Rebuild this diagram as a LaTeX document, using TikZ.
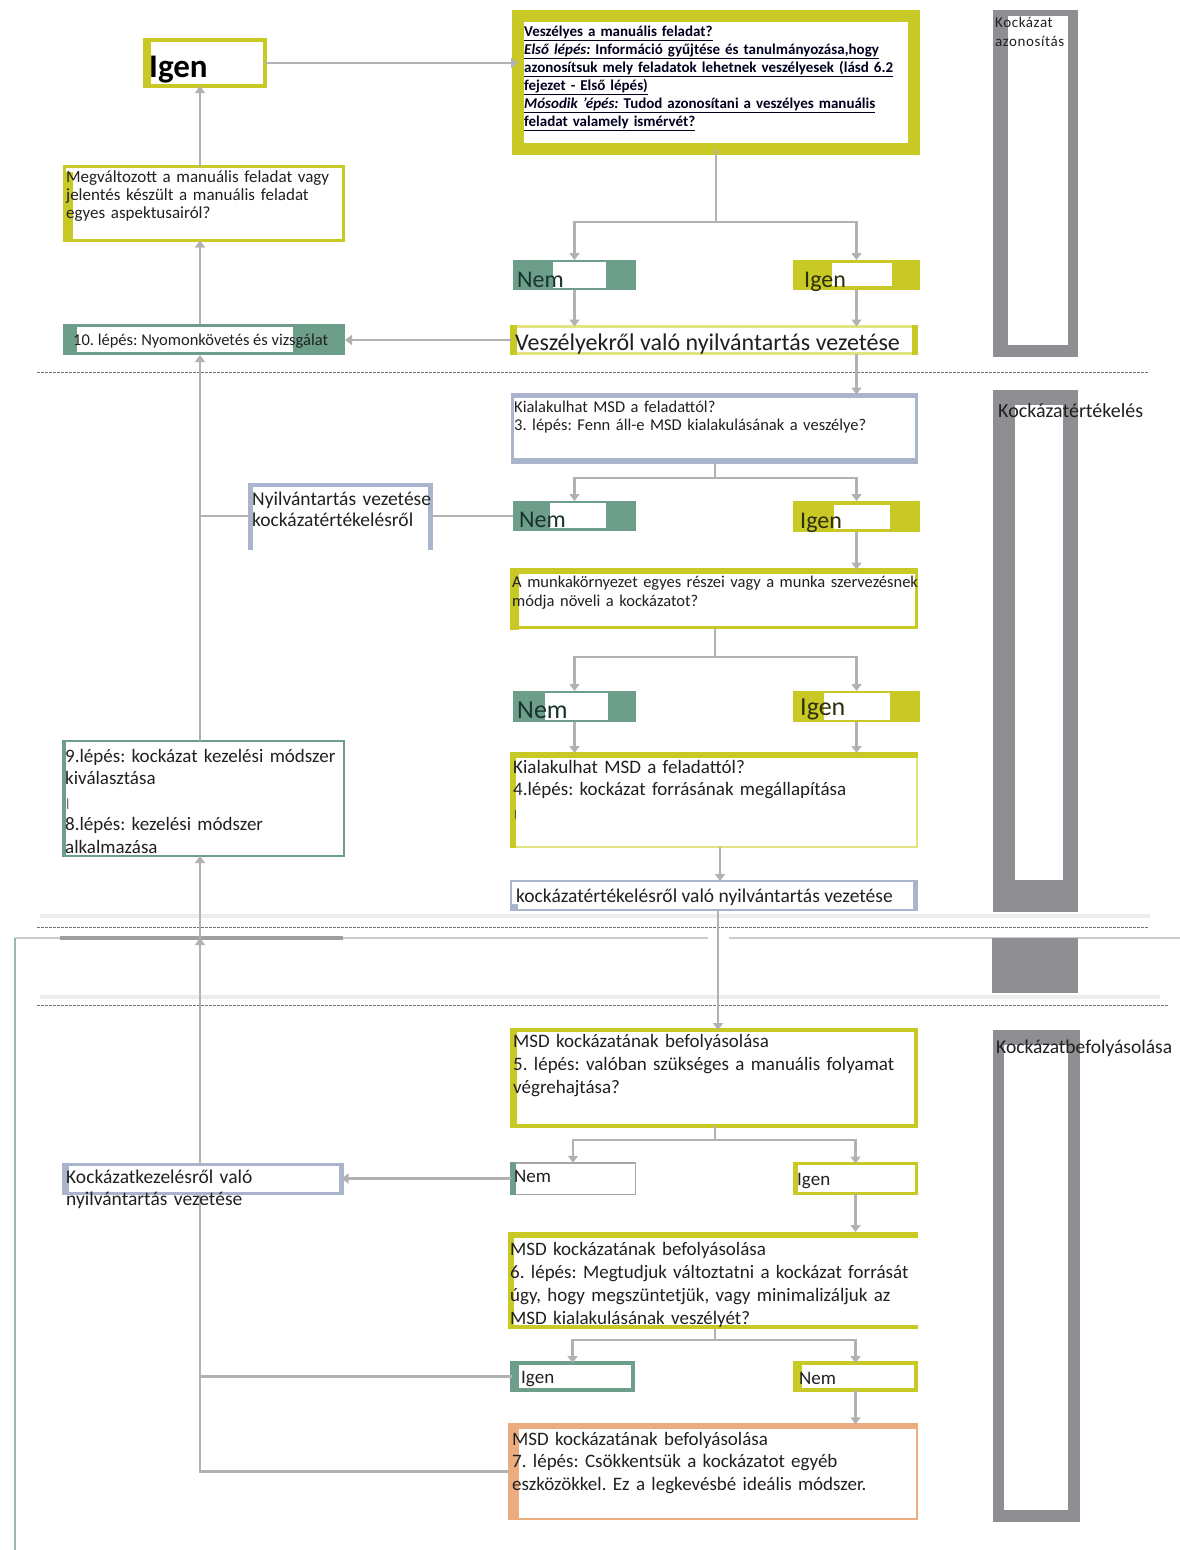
\documentclass[tikz,border=0pt]{standalone}
\usepackage{fontspec}
\setmainfont{Carlito}
\newfontfamily\widefont[LetterSpace=4]{Carlito}
\usetikzlibrary{arrows.meta}
\frenchspacing

\definecolor{ylw}{RGB}{200,201,36}
\definecolor{ylwlt}{RGB}{226,228,130}
\definecolor{teal}{RGB}{108,158,138}
\definecolor{bluegray}{RGB}{170,180,205}
\definecolor{frgray}{RGB}{142,142,147}
\definecolor{orng}{RGB}{236,172,128}
\definecolor{conngray}{RGB}{178,178,178}
\definecolor{txtc}{RGB}{32,32,32}
\definecolor{nemc}{RGB}{25,50,45}
\definecolor{igenc}{RGB}{45,45,15}

\tikzset{
  bx/.style={rectangle, inner sep=0pt, outer sep=0pt, anchor=north west, fill=white},
  tx/.style={anchor=base west, inner sep=0pt, text=txtc},
  mtx/.style={anchor=base west, inner sep=0pt, text=txtc, align=left, text width=#1},
  conn/.style={draw=conngray, line width=2.5pt},
  arr/.style={conn, -{Triangle[width=10pt,length=7pt]}},
  sep/.style={draw=black!55, line width=0.9pt, dash pattern=on 2.5pt off 1.5pt},
}

\begin{document}
\begin{tikzpicture}[x=1pt,y=-1pt]
\useasboundingbox (0,0) rectangle (1180,1550);
\fill[white] (0,0) rectangle (1180,1550);

% ---------- section separators ----------
\draw[black!7, line width=4pt] (40,916) -- (1150,916);
\draw[black!7, line width=4pt] (40,997) -- (1160,997);
\draw[sep] (37,372) -- (1148,372);
\draw[sep] (37,927) -- (1148,927);
\draw[sep] (37,1005) -- (1168,1005);
\draw[black!20, line width=2.5pt] (15,938) -- (708,938);
\draw[black!20, line width=2.5pt] (729,938) -- (1180,938);
\draw[black!38, line width=3.5pt] (60,938) -- (343,938);
\draw[teal!70, line width=1.5pt] (15,938) -- (15,1550);

% ---------- phase frames on the right ----------
\fill[frgray] (993,10) rectangle (1078,357);
\fill[white] (1008,16) rectangle (1068,345);
\node[tx, font=\widefont\fontsize{15}{20}\selectfont] (ph1a) at (995,27) {Kockázat};
\node[tx, font=\widefont\fontsize{15}{20}\selectfont] (ph1b) at (995,46) {azonosítás};

\fill[frgray] (993,390) rectangle (1078,912);
\fill[white] (1015,405) rectangle (1063,880);
\node[tx, font=\fontsize{20}{22}\selectfont] (ph2) at (998,417) {Kockázatértékelés};

\fill[frgray] (992,938) rectangle (1078,993);

\fill[frgray] (993,1030) rectangle (1080,1522);
\fill[white] (1004,1045) rectangle (1068,1510);
\node[tx, font=\fontsize{19.5}{22}\selectfont] (ph3) at (996,1053) {Kockázatbefolyásolása};

% ---------- boxes: risk identification ----------
\node[bx, draw=ylw, line width=4pt, minimum width=120pt, minimum height=46pt] (igen0) at (145,40) {};
\fill[ylw] (143,38) rectangle (151,88);

\node[bx, draw=ylw, line width=12pt, minimum width=396pt, minimum height=133pt] (q1) at (518,16) {};

\node[bx, fill=teal, minimum width=123pt, minimum height=30pt] (nem1) at (513,260) {};
\fill[white] (553,262) rectangle (606,288);
\node[bx, fill=ylw, minimum width=127pt, minimum height=30pt] (igen1) at (793,260) {};
\fill[white] (832,263) rectangle (892,286);

\node[bx, draw=ylwlt, line width=3pt, minimum width=405pt, minimum height=27pt] (vesz) at (511.5,326.5) {};
\fill[ylw] (510,325) rectangle (517,355);
\fill[ylw] (912,325) rectangle (918,355);

\node[bx, fill=teal, minimum width=282pt, minimum height=31pt] (step10) at (63,324) {};
\fill[white] (77,327) rectangle (293,352);

\node[bx, draw=ylw, line width=3pt, minimum width=279pt, minimum height=74pt] (megv) at (64.5,166.5) {};
\fill[ylw] (63,172) rectangle (73,242);

% ---------- boxes: risk assessment ----------
\node[bx, draw=bluegray, line width=3pt, minimum width=404pt, minimum height=67pt] (kial1) at (512.5,394.5) {};
\fill[bluegray] (511,393) rectangle (918,398);
\fill[bluegray] (511,458) rectangle (918,464);

\node[bx, fill=teal, minimum width=123pt, minimum height=30pt] (nem2) at (513,501) {};
\fill[white] (550,503) rectangle (606,528);
\node[bx, fill=ylw, minimum width=127pt, minimum height=31pt] (igen2) at (793,501) {};
\fill[white] (834,505) rectangle (890,529);

\node[bx, fill=white, minimum width=185pt, minimum height=67pt] (nyilv) at (248,483) {};
\fill[bluegray] (248,483) rectangle (433,487);
\fill[bluegray] (248,483) rectangle (253,550);
\fill[bluegray] (428,483) rectangle (433,550);

\node[bx, draw=ylw, line width=3pt, minimum width=405pt, minimum height=58pt] (munka) at (511.5,569.5) {};
\fill[ylw] (510,568) rectangle (918,574);
\fill[ylw] (510,568) rectangle (519,630);

\node[bx, fill=teal, minimum width=123pt, minimum height=31pt] (nem3) at (513,691) {};
\fill[white] (545,693) rectangle (608,720);
\node[bx, fill=ylw, minimum width=127pt, minimum height=31pt] (igen3) at (793,691) {};
\fill[white] (824,693) rectangle (890,720);

\node[bx, draw=ylwlt, line width=2pt, minimum width=406pt, minimum height=94pt] (kial2) at (511,753) {};
\fill[ylw] (510,752) rectangle (918,758);
\fill[ylw] (510,752) rectangle (516,848);

\node[bx, draw=bluegray, line width=2pt, minimum width=406pt, minimum height=29pt] (kert) at (511,881) {};
\fill[bluegray] (913,880) rectangle (918,911);
\fill[bluegray] (511,904) rectangle (518,911);

\node[bx, draw=teal, line width=2pt, minimum width=281pt, minimum height=115pt] (step9) at (63,741) {};
\fill[teal] (62,740) rectangle (66,857);

% ---------- boxes: risk control ----------
\node[bx, draw=ylw, line width=4pt, minimum width=404pt, minimum height=96pt] (msd5) at (512,1030) {};
\fill[ylw] (510,1028) rectangle (517,1128);

\node[bx, draw=black!35, line width=1.5pt, minimum width=124.5pt, minimum height=31.5pt] (nem4) at (510.75,1162.75) {};
\fill[teal] (510,1162) rectangle (516,1195);
\node[bx, draw=ylw, line width=3pt, minimum width=122pt, minimum height=30pt] (igen4) at (794.5,1163.5) {};
\fill[ylw] (793,1162) rectangle (798,1195);

\node[bx, draw=bluegray, line width=3pt, minimum width=278pt, minimum height=29pt] (kkez) at (63.5,1164.5) {};
\fill[bluegray] (62,1163) rectangle (69,1195);
\fill[bluegray] (339,1163) rectangle (344,1195);

\node[bx, fill=white, minimum width=410pt, minimum height=97pt] (msd6) at (508,1232) {};
\fill[ylw] (508,1232) rectangle (918,1238);
\fill[ylw] (508,1232) rectangle (514,1329);
\fill[ylw] (508,1325) rectangle (918,1329);

\node[bx, draw=teal, line width=4pt, minimum width=121pt, minimum height=27pt] (igen5) at (512,1363) {};
\fill[teal] (510,1361) rectangle (519,1392);
\node[bx, draw=ylw, line width=4pt, minimum width=121pt, minimum height=27pt] (nem5) at (795,1363) {};
\fill[ylw] (793,1361) rectangle (802,1392);

\node[bx, draw=orng, line width=2.5pt, minimum width=407.5pt, minimum height=94.5pt] (msd7) at (509.25,1424.25) {};
\fill[orng] (508,1423) rectangle (918,1429);
\fill[orng] (508,1423) rectangle (519,1520);

% ---------- connectors ----------
\coordinate (lx) at (200,0);
\coordinate (s1) at (716,222);
\coordinate (s2) at (715,478);
\coordinate (s3) at (715,657);
\coordinate (s4) at (715,1140);
\coordinate (s5) at (715,1340);
\coordinate (mx) at (720,0);
\coordinate (mx2) at (718,0);
\coordinate (j1) at (200,938);

\draw[arr] (igen0.east) -- (igen0.east -| q1.west);
\draw[conn] (q1.south) -- (s1);
\draw[arr] (s1) -| (nem1.north);
\draw[arr] (s1) -| (igen1.north);
\draw[arr] (nem1.south) -- (nem1.south |- vesz.north);
\draw[arr] (igen1.south) -- (igen1.south |- vesz.north);
\draw[arr] (vesz.west) -- (vesz.west -| step10.east);
\draw[arr] (step10.north -| lx) -- (megv.south -| lx);
\draw[arr] (megv.north -| lx) -- (igen0.south -| lx);
\draw[arr] (step9.north -| lx) -- (step10.south -| lx);

\draw[arr] (vesz.south -| igen1.south) -- (kial1.north -| igen1.south);
\draw[conn] (kial1.south -| s2) -- (s2);
\draw[arr] (s2) -| (nem2.north);
\draw[arr] (s2) -| (igen2.north);
\draw[conn] (nem2.west) -- (nem2.west -| nyilv.east);
\draw[conn] (nyilv.west |- nem2.west) -- (nem2.west -| lx);
\draw[arr] (igen2.south) -- (igen2.south |- munka.north);
\draw[conn] (munka.south -| s3) -- (s3);
\draw[arr] (s3) -| (nem3.north);
\draw[arr] (s3) -| (igen3.north);
\draw[arr] (nem3.south) -- (nem3.south |- kial2.north);
\draw[arr] (igen3.south) -- (igen3.south |- kial2.north);
\draw[arr] (kial2.south -| mx) -- (kert.north -| mx);
\draw[arr] (kert.south -| mx2) -- (msd5.north -| mx2);

\draw[arr] (kkez.north -| lx) -- (j1);
\draw[arr] (j1) -- (step9.south -| lx);
\draw[conn] (msd5.south -| s4) -- (s4);
\draw[arr] (s4) -| (nem4.north);
\draw[arr] (s4) -| (igen4.north);
\draw[arr] (nem4.west) -- (nem4.west -| kkez.east);
\draw[arr] (igen4.south) -- (igen4.south |- msd6.north);
\draw[conn] (msd6.south -| s5) -- (s5);
\draw[arr] (s5) -| (igen5.north);
\draw[arr] (s5) -| (nem5.north);
\draw[arr] (nem5.south) -- (nem5.south |- msd7.north);
\draw[conn] (kkez.south -| lx) -- (msd7.west -| lx) -- (msd7.west);
\draw[conn] (igen5.west) -- (igen5.west -| lx);

% ---------- texts ----------
\node[tx, font=\bfseries\fontsize{33}{36}\selectfont, text=black] (tIgen0) at (149,77) {Igen};

\node[mtx=400pt, font=\bfseries\fontsize{15}{18}\selectfont, text={black!80!blue!60!black}] (tq1) at (524,36)
{\underline{Veszélyes a manuális feladat?}\\
 \underline{\textit{Első lépés:} Információ gyűjtése és tanulmányozása,hogy}\\
 \underline{azonosítsuk mely feladatok lehetnek veszélyesek (lásd 6.2}\\
 \underline{fejezet - Első lépés)}\\
 \underline{\textit{Mósodik 'épés:} Tudod azonosítani a veszélyes manuális}\\
 \underline{feladat valamely ismérvét?}};

\node[tx, font=\fontsize{24}{26}\selectfont, text=nemc] (tnem1) at (517,287) {Nem};
\node[tx, font=\fontsize{24}{26}\selectfont, text=igenc] (tigen1) at (804,287) {Igen};
\node[tx, font=\fontsize{24}{26}\selectfont] (tvesz) at (515,350) {Veszélyekről való nyilvántartás vezetése};
\node[tx, font=\fontsize{16.5}{18}\selectfont] (tstep10) at (73,345) {10. lépés: Nyomonkövetés és vizsgálat};

\node[mtx=280pt, font=\fontsize{17}{18}\selectfont] (tmegv) at (66,182)
{Megváltozott a manuális feladat vagy\\ jelentés készült a manuális feladat\\ egyes aspektusairól?};

\node[mtx=400pt, font=\fontsize{16.5}{18}\selectfont] (tkial1) at (514,412)
{Kialakulhat MSD a feladattól?\\ 3. lépés: Fenn áll-e MSD kialakulásának a veszélye?};

\node[tx, font=\fontsize{24}{26}\selectfont, text=nemc] (tnem2) at (519,527) {Nem};
\node[tx, font=\fontsize{24}{26}\selectfont, text=igenc] (tigen2) at (800,528) {Igen};

\node[mtx=190pt, font=\fontsize{19.5}{21}\selectfont] (tnyilv) at (252,505)
{Nyilvántartás vezetése\\ kockázatértékelésről};

\node[mtx=420pt, font=\fontsize{16.5}{19}\selectfont] (tmunka) at (512,587)
{A munkakörnyezet egyes részei vagy a munka szervezésnek\\ módja növeli a kockázatot?};

\node[tx, font=\fontsize{26}{28}\selectfont, text=nemc] (tnem3) at (517,718) {Nem};
\node[tx, font=\fontsize{26}{28}\selectfont, text=igenc] (tigen3) at (800,715) {Igen};

\node[mtx=400pt, font=\fontsize{19}{22}\selectfont] (tkial2) at (513,773)
{Kialakulhat MSD a feladattól?\\ 4.lépés: kockázat forrásának megállapítása\\ {\fontsize{10}{22}\selectfont |}};

\node[tx, font=\fontsize{19.5}{22}\selectfont] (tkert) at (516,902) {kockázatértékelésről való nyilvántartás vezetése};

\node[mtx=285pt, font=\fontsize{19}{22.8}\selectfont] (tstep9) at (65,762)
{9.lépés: kockázat kezelési módszer\\ kiválasztása\\ {\fontsize{12}{22.8}\selectfont |}\\ 8.lépés: kezelési módszer\\ alkalmazása};

\node[mtx=405pt, font=\fontsize{19}{23}\selectfont] (tmsd5) at (513,1047)
{MSD kockázatának befolyásolása\\ 5. lépés: valóban szükséges a manuális folyamat\\ végrehajtása?};

\node[tx, font=\fontsize{19}{22}\selectfont] (tnem4) at (514,1182) {Nem};
\node[tx, font=\fontsize{19}{22}\selectfont] (tigen4) at (797,1185) {Igen};

\node[mtx=290pt, font=\fontsize{19.5}{22}\selectfont] (tkkez) at (66,1183)
{Kockázatkezelésről való\\ nyilvántartás vezetése};

\node[mtx=410pt, font=\fontsize{19}{23}\selectfont] (tmsd6) at (510,1255)
{MSD kockázatának befolyásolása\\ 6. lépés: Megtudjuk változtatni a kockázat forrását\\ úgy, hogy megszüntetjük, vagy minimalizáljuk az\\ MSD kialakulásának veszélyét?};

\node[tx, font=\fontsize{19}{22}\selectfont] (tigen5) at (521,1383) {Igen};
\node[tx, font=\fontsize{19}{22}\selectfont] (tnem5) at (799,1384) {Nem};

\node[mtx=405pt, font=\fontsize{19}{22.5}\selectfont] (tmsd7) at (512,1445)
{MSD kockázatának befolyásolása\\ 7. lépés: Csökkentsük a kockázatot egyéb\\ eszközökkel. Ez a legkevésbé ideális módszer.};

\end{tikzpicture}
\end{document}
